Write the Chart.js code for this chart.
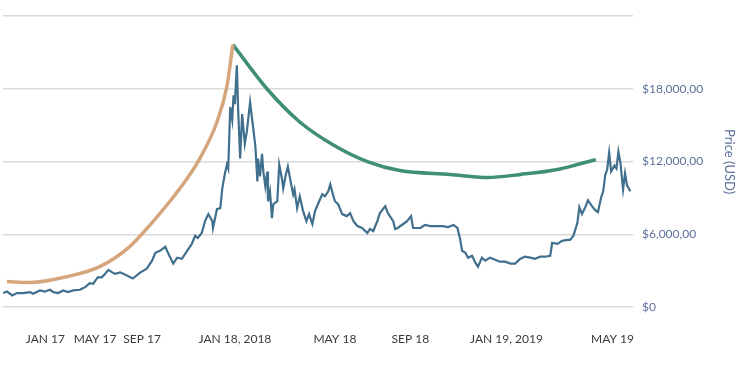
<!DOCTYPE html>
<html>
<head>
<meta charset="utf-8">
<script src="https://cdn.jsdelivr.net/npm/chart.js@4.4.1/dist/chart.umd.min.js"></script>
<style>
    body { margin: 0; background: #fff; }
    #wrap { width: 739px; height: 376px; }
</style>
</head>
<body>
<div id="wrap"><canvas id="btcChart" width="739" height="376"></canvas></div>
<script>
// days counted from the first point of the price line (end of Dec 2016)
const priceDays = [0, 6, 14, 21, 30, 41, 45, 56, 63, 71, 76, 83, 91, 98, 106, 116, 124, 131, 136, 143,
    149, 154, 159, 165, 169, 177, 184, 196, 207, 217, 225, 230, 237, 245, 249, 257, 263, 270, 278, 285,
    290, 294, 300, 305, 310, 316, 317, 323, 328, 331, 335, 338, 340, 343, 346, 348, 350, 353, 355, 358,
    361, 365, 368, 373, 378, 381, 384, 385, 388, 391, 393, 396, 399, 400, 403, 406, 408, 414, 417, 421,
    423, 427, 430, 435, 438, 440, 444, 448, 453, 458, 462, 467, 471, 476, 482, 486, 491, 494, 498, 501,
    506, 512, 519, 524, 529, 535, 542, 550, 554, 559, 565, 569, 577, 581, 584, 589, 592, 596, 604, 610,
    616, 619, 630, 637, 645, 655, 664, 672, 680, 686, 690, 693, 698, 702, 708, 713, 717, 723, 728, 735,
    743, 750, 758, 766, 773, 781, 788, 796, 803, 811, 818, 826, 829, 837, 844, 852, 856, 861, 867, 870,
    874, 879, 883, 889, 894, 898, 903, 906, 909, 912, 915, 918, 923, 926, 929, 932, 936, 939, 942, 947];
const priceUsd = [1150, 1280, 960, 1150, 1150, 1230, 1100, 1370, 1280, 1420, 1230, 1150, 1370, 1230, 1370, 1420, 1640, 1960, 1910, 2450,
    2450, 2730, 3060, 2860, 2730, 2860, 2680, 2350, 2840, 3170, 3820, 4470, 4640, 4970, 4470, 3580, 4070, 3980, 4640, 5210,
    5870, 5700, 6110, 7090, 7670, 7090, 6520, 8070, 8160, 9790, 11020, 11760, 11430, 16500, 15440, 17480, 16740, 19940, 16250, 12250,
    15930, 13470, 14450, 16910, 14620, 13230, 10360, 12250, 10770, 12650, 11180, 9960, 11180, 8730, 9550, 7340, 8480, 8730, 11760, 10610,
    9790, 10940, 11590, 10120, 9300, 9710, 8160, 9140, 7910, 7090, 7670, 6850, 7910, 8560, 9300, 9140, 9550, 10120, 9300, 8730,
    8480, 7670, 7500, 7750, 7090, 6680, 6520, 6110, 6440, 6270, 7090, 7750, 8320, 7750, 7500, 7090, 6440, 6520, 6850, 7090,
    7500, 6520, 6520, 6770, 6680, 6680, 6680, 6600, 6770, 6520, 5620, 4640, 4470, 4070, 4230, 3660, 3330, 4070, 3820, 4070,
    3900, 3740, 3740, 3580, 3580, 3980, 4150, 4070, 3980, 4150, 4150, 4230, 5290, 5210, 5460, 5540, 5540, 5870, 6930, 8240,
    7670, 8240, 8810, 8320, 7990, 7830, 9060, 9550, 10860, 11350, 12740, 11180, 11670, 11430, 12820, 11920, 9710, 11020, 10040, 9550];

// rising arc up to the peak
const riseDays = [6, 41, 97, 146, 189, 227, 252, 278, 297, 323, 338, 347];
const riseUsd = [2100, 2020, 2510, 3330, 4880, 7090, 8730, 10610, 12250, 15270, 18220, 21650];

// falling arc after the peak
const fallDays = [347, 399, 448, 498, 550, 599, 675, 731, 781, 837, 867, 895];
const fallUsd = [21650, 17970, 15270, 13390, 12000, 11260, 10940, 10690, 10940, 11350, 11760, 12160];

const tickDays = [64, 139, 210, 350, 501, 615, 760, 920];
const tickLabels = ['JAN 17', 'MAY 17', 'SEP 17', 'JAN 18, 2018', 'MAY 18', 'SEP 18', 'JAN 19, 2019', 'MAY 19'];

function toPoints(xs, ys) {
    return xs.map((x, i) => ({ x: x, y: ys[i] }));
}

const ctx = document.getElementById('btcChart').getContext('2d');
const btcChart = new Chart(ctx, {
    type: 'line',
    data: {
        datasets: [
            {
                label: 'Price',
                data: toPoints(priceDays, priceUsd),
                borderColor: '#416f8e',
                borderWidth: 2.2,
                pointRadius: 0,
                tension: 0,
                fill: false,
            },
            {
                label: 'Rise',
                data: toPoints(riseDays, riseUsd),
                borderColor: '#d5a67b',
                borderWidth: 3.5,
                pointRadius: 0,
                cubicInterpolationMode: 'monotone',
                fill: false,
            },
            {
                label: 'Fall',
                data: toPoints(fallDays, fallUsd),
                borderColor: '#3f8f74',
                borderWidth: 3.5,
                pointRadius: 0,
                cubicInterpolationMode: 'monotone',
                fill: false,
            }
        ]
    },
    options: {
        responsive: false,
        animation: false,
        layout: { padding: { left: 3, top: 13, right: 0, bottom: 0 } },
        plugins: {
            legend: { display: false },
            tooltip: { enabled: false }
        },
        scales: {
            x: {
                type: 'linear',
                min: 0,
                max: 951,
                grid: { display: false, drawTicks: false },
                border: { display: false },
                afterBuildTicks: function(scale) {
                    scale.ticks = tickDays.map(d => ({ value: d }));
                },
                afterFit: function(scale) {
                    scale.height = 69;
                },
                ticks: {
                    autoSkip: false,
                    maxRotation: 0,
                    padding: 25,
                    color: '#3a3a3a',
                    font: { family: 'Lato', size: 12 },
                    callback: function(value) {
                        const i = tickDays.indexOf(value);
                        return i >= 0 ? tickLabels[i] : '';
                    }
                }
            },
            y: {
                position: 'right',
                min: 0,
                max: 24000,
                afterFit: function(scale) {
                    scale.width = 106;
                },
                grid: {
                    color: '#dadada',
                    lineWidth: 1.5,
                    drawTicks: false
                },
                border: { display: false },
                ticks: {
                    stepSize: 6000,
                    padding: 9,
                    color: '#5d709b',
                    font: { family: 'Lato', size: 12 },
                    callback: function(value) {
                        if (value === 0) return '$0';
                        if (value >= 24000) return '';
                        return '$' + value.toLocaleString('en-US') + ',00';
                    }
                },
                title: {
                    display: true,
                    text: 'Price (USD)',
                    color: '#5d709b',
                    font: { family: 'Lato', size: 13 },
                    padding: { top: 2, bottom: 2 }
                }
            }
        }
    }
});
</script>
</body>
</html>
